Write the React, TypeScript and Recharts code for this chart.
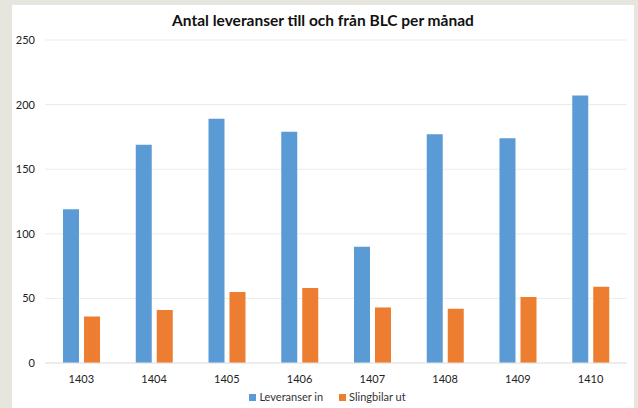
import { BarChart, Bar, XAxis, YAxis, CartesianGrid, Legend } from 'recharts'

const months = ['1403', '1404', '1405', '1406', '1407', '1408', '1409', '1410']
const leveranserIn = [119, 169, 189, 179, 90, 177, 174, 207]
const slingbilarUt = [36, 41, 55, 58, 43, 42, 51, 59]
const yTicks = [0, 50, 100, 150, 200, 250]

const FONT = 'Lato, "Open Sans", sans-serif'

const series = [
  { key: 'in', name: 'Leveranser in', color: '#5b9bd5' },
  { key: 'ut', name: 'Slingbilar ut', color: '#ed7d31' },
]

// legend drawn by hand so spacing can match the original
function LegendContent() {
  return (
    <div style={{ display: 'flex', justifyContent: 'center', gap: 16, paddingLeft: 16, fontFamily: FONT, fontSize: 11, color: '#333', lineHeight: '14px' }}>
      {series.map((s) => (
        <span key={s.key} style={{ display: 'inline-flex', alignItems: 'center' }}>
          <span style={{ display: 'inline-block', width: 7, height: 7, background: s.color, marginRight: 3 }} />
          {s.name}
        </span>
      ))}
    </div>
  )
}

export default function App() {
  const data = months.map((m, i) => ({
    month: m,
    in: leveranserIn[i],
    ut: slingbilarUt[i],
  }))

  return (
    <div style={{ position: 'fixed', left: 0, top: 0, width: 638, height: 408, background: '#e6e6df', overflow: 'hidden' }}>
      <div style={{ position: 'absolute', left: 12, top: 5, width: 622, height: 403, background: '#fff' }}>
        {/* Title */}
        <div
          style={{
            position: 'absolute',
            top: 6,
            left: 0,
            width: 622,
            textAlign: 'center',
            fontFamily: FONT,
            fontWeight: 700,
            fontSize: 15.5,
            color: '#111',
          }}
        >
          Antal leveranser till och från BLC per månad
        </div>
        <BarChart
          width={622}
          height={403}
          data={data}
          margin={{ top: 35, right: 7, bottom: 4, left: 0 }}
          barSize={16}
          barGap={5}
        >
          <CartesianGrid vertical={false} stroke="#ebebeb" />
          <XAxis
            dataKey="month"
            axisLine={{ stroke: '#e4e4e4' }}
            tickLine={false}
            tickSize={0}
            tickMargin={12}
            height={27}
            tick={{ fill: '#222', fontSize: 11, fontFamily: FONT }}
          />
          <YAxis
            domain={[0, 250]}
            ticks={yTicks}
            axisLine={false}
            tickLine={false}
            tickSize={0}
            tickMargin={10}
            width={33}
            tick={{ fill: '#222', fontSize: 11, fontFamily: FONT }}
          />
          <Bar dataKey="in" name="Leveranser in" fill="#5b9bd5" isAnimationActive={false} />
          <Bar dataKey="ut" name="Slingbilar ut" fill="#ed7d31" isAnimationActive={false} />
          <Legend verticalAlign="bottom" content={() => <LegendContent />} />
        </BarChart>
      </div>
    </div>
  )
}
